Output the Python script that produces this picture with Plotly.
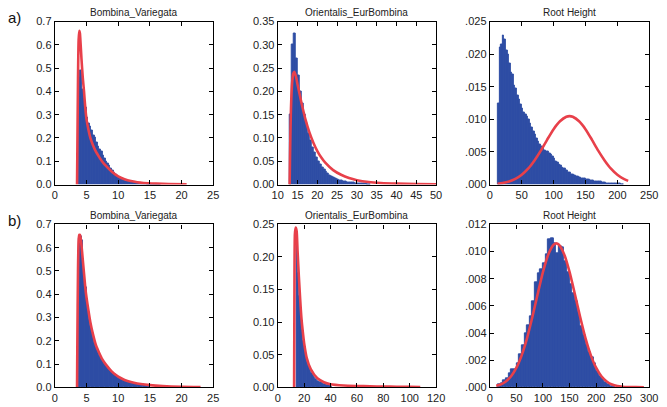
import plotly.graph_objects as go

W, H = 667, 407
BLUE = "#2F4EA4"
RED = "#E8404A"
FONT = "Liberation Sans, Arial, sans-serif"

# ---------------- data ----------------
titles = ["Bombina_Variegata", "Orientalis_EurBombina", "Root Height",
          "Bombina_Variegata", "Orientalis_EurBombina", "Root Height"]
row_labels = ["a)", "b)"]

# (a) Bombina_Variegata
a1_bin_start, a1_bin_width = 3.75, 0.25
a1_hist = [0.46, 0.49, 0.41, 0.37, 0.33, 0.29, 0.26, 0.25, 0.23, 0.21, 0.20, 0.18,
           0.165, 0.15, 0.14, 0.125, 0.11, 0.10, 0.09, 0.08, 0.07, 0.06, 0.05, 0.045,
           0.04, 0.03, 0.025, 0.02, 0.018, 0.015, 0.013, 0.012, 0.010, 0.009, 0.008,
           0.007, 0.006, 0.005, 0.005, 0.004, 0.004, 0.003, 0.003, 0.002, 0.002, 0.002,
           0.0015, 0.0015, 0.001, 0.001, 0.001, 0.001]
a1_fit_x = [3.5, 3.55, 3.65, 3.75, 3.85, 3.95, 4.05, 4.2, 4.4, 4.6, 4.8, 5.0, 5.3, 5.6,
            6.0, 6.5, 7.0, 7.5, 8.0, 9.0, 10.0, 11.0, 12.0, 13.0, 14.0, 16.0, 18.0, 20.8]
a1_fit_y = [0.0, 0.15, 0.45, 0.62, 0.66, 0.65, 0.61, 0.54, 0.46, 0.40, 0.33, 0.28, 0.235,
            0.20, 0.17, 0.14, 0.118, 0.098, 0.082, 0.055, 0.035, 0.023, 0.015, 0.01,
            0.007, 0.004, 0.002, 0.001]

# (a) Orientalis_EurBombina
a2_bin_start, a2_bin_width = 13.0, 0.5
a2_hist = [0.15, 0.30, 0.325, 0.27, 0.235, 0.20, 0.175, 0.15, 0.13, 0.11, 0.095, 0.08,
           0.068, 0.058, 0.05, 0.043, 0.037, 0.032, 0.027, 0.023, 0.02, 0.017, 0.015,
           0.013, 0.011, 0.0095, 0.008, 0.007, 0.006, 0.005, 0.0045, 0.004, 0.0035,
           0.003, 0.0025, 0.002, 0.002, 0.0015, 0.0015, 0.001, 0.001]
a2_fit_x = [13.0, 13.1, 13.3, 13.6, 13.9, 14.2, 14.6, 15.0, 15.5, 16.0, 16.5, 17.0, 18.0,
            19.0, 20.0, 21.0, 22.0, 24.0, 26.0, 28.0, 30.0, 33.0, 36.0, 40.0, 45.0, 50.0]
a2_fit_y = [0.0, 0.06, 0.15, 0.215, 0.238, 0.242, 0.232, 0.215, 0.195, 0.175, 0.157,
            0.14, 0.112, 0.09, 0.072, 0.058, 0.047, 0.031, 0.021, 0.014, 0.0095, 0.0055,
            0.0035, 0.002, 0.001, 0.0005]

# (a) Root Height
a3_bin_start, a3_bin_width = 12.5, 2.5
a3_hist = [0.0125, 0.0210, 0.0215, 0.0228, 0.0222, 0.0205, 0.0199, 0.0185, 0.0172,
           0.0168, 0.0152, 0.0148, 0.0137, 0.0130, 0.0122, 0.0117, 0.0110, 0.0108,
           0.0105, 0.0099, 0.0094, 0.0088, 0.0081, 0.0076, 0.0071, 0.0066, 0.0061,
           0.0058, 0.0056, 0.0052, 0.0050, 0.0051, 0.0048, 0.0046, 0.0043, 0.0040,
           0.0036, 0.0034, 0.0031, 0.0029, 0.0026, 0.0025, 0.0024, 0.0021, 0.0019,
           0.0018, 0.0016, 0.0015, 0.0014, 0.0013, 0.0012, 0.0011, 0.0010, 0.0009,
           0.0009, 0.0008, 0.0007, 0.0007, 0.0006, 0.0006, 0.0005, 0.0005, 0.0004,
           0.0004, 0.0004, 0.0003, 0.0003, 0.0003, 0.0002, 0.0002, 0.0002, 0.0002,
           0.0001, 0.0001, 0.0001, 0.0001, 0.0001, 0.00005, 0.00005]
a3_fit_x = [12, 20, 30, 40, 50, 60, 70, 80, 90, 100, 110, 120, 125, 130, 140, 150, 160,
            170, 180, 190, 200, 210, 217]
a3_fit_y = [0.00013, 0.00023, 0.00046, 0.00086, 0.0015, 0.00243, 0.0037, 0.0052, 0.0069,
            0.0085, 0.0097, 0.0104, 0.0105, 0.0104, 0.0097, 0.0085, 0.0069, 0.0052,
            0.0037, 0.00243, 0.0015, 0.00086, 0.00057]

# (b) Bombina_Variegata
b1_bin_start, b1_bin_width = 3.8, 0.2
b1_hist = [0.64, 0.65, 0.63, 0.55, 0.49, 0.43, 0.38, 0.33, 0.29, 0.26, 0.235, 0.21, 0.19,
           0.172, 0.158, 0.146, 0.135, 0.125, 0.116, 0.107, 0.10, 0.093, 0.086, 0.08,
           0.074, 0.068, 0.062, 0.058, 0.054, 0.05, 0.046, 0.042, 0.039, 0.036, 0.033,
           0.031, 0.029, 0.027, 0.025, 0.023, 0.021, 0.02, 0.018, 0.017, 0.016, 0.015,
           0.014, 0.013, 0.012, 0.011, 0.011, 0.01, 0.009, 0.009, 0.008, 0.008]
b1_fit_x = [3.5, 3.55, 3.65, 3.75, 3.85, 3.95, 4.05, 4.2, 4.4, 4.6, 4.8, 5.0, 5.3, 5.6,
            6.0, 6.5, 7.0, 7.5, 8.0, 9.0, 10.0, 11.0, 12.0, 13.0, 15.0, 17.0, 20.0, 23.0]
b1_fit_y = [0.0, 0.2, 0.5, 0.63, 0.655, 0.655, 0.645, 0.61, 0.55, 0.49, 0.43, 0.385, 0.33,
            0.28, 0.23, 0.18, 0.148, 0.12, 0.10, 0.068, 0.046, 0.032, 0.023, 0.017, 0.01,
            0.006, 0.003, 0.002]

# (b) Orientalis_EurBombina
b2_bin_start, b2_bin_width = 14.2, 1.0
b2_hist = [0.228, 0.175, 0.14, 0.11, 0.088, 0.07, 0.057, 0.047, 0.039, 0.032, 0.027,
           0.022, 0.018, 0.015, 0.012, 0.010, 0.009, 0.008, 0.007, 0.006, 0.005, 0.004,
           0.0035, 0.003, 0.0025, 0.002, 0.002]
b2_fit_x = [12.4, 12.6, 13.0, 13.6, 14.3, 15.0, 16.0, 17.0, 18.0, 19.0, 20.0, 22.0, 25.0,
            30.0, 35.0, 40.0, 50.0, 60.0, 70.0, 80.0, 90.0, 100.0, 108.0]
b2_fit_y = [0.0, 0.12, 0.235, 0.245, 0.24, 0.21, 0.17, 0.135, 0.105, 0.085, 0.068, 0.045,
            0.028, 0.014, 0.008, 0.005, 0.003, 0.0022, 0.0017, 0.0013, 0.001, 0.0008,
            0.0006]

# (b) Root Height
b3_bin_start, b3_bin_width = 15.0, 5.0
b3_hist = [0.0002, 0.0003, 0.0005, 0.0007, 0.0010, 0.0013, 0.0013, 0.0018, 0.0024,
           0.0031, 0.0040, 0.0046, 0.0052, 0.0063, 0.0077, 0.0084, 0.0087, 0.0091,
           0.0098, 0.0109, 0.0110, 0.0106, 0.0099, 0.0104, 0.0103, 0.0093, 0.0085,
           0.0076, 0.0069, 0.0063, 0.0055, 0.0045, 0.0038, 0.0031, 0.0026, 0.0022,
           0.0018, 0.0012, 0.0008, 0.0006, 0.0004, 0.0002, 0.0001, 0.0001]
b3_fit_x = [12, 20, 30, 40, 50, 60, 70, 80, 90, 100, 110, 120, 125, 130, 140, 150, 160,
            170, 180, 190, 200, 210, 220, 230, 240, 250, 260, 275, 290]
b3_fit_y = [0.00012, 0.00021, 0.00044, 0.00082, 0.00145, 0.00238, 0.00363, 0.00518,
            0.00687, 0.0085, 0.00979, 0.0105, 0.0106, 0.0105, 0.00979, 0.0085, 0.00687,
            0.00518, 0.00363, 0.00238, 0.00145, 0.00082, 0.00044, 0.00021, 0.0001,
            0.00005, 0.00003, 0.00002, 0.00001]

# axis ranges and ticks
x_ranges = [[0, 25], [10, 50], [0, 250], [0, 25], [0, 120], [0, 300]]
x_ticks = [[0, 5, 10, 15, 20, 25], [10, 15, 20, 25, 30, 35, 40, 45, 50],
           [0, 50, 100, 150, 200, 250], [0, 5, 10, 15, 20, 25],
           [0, 20, 40, 60, 80, 100, 120], [0, 50, 100, 150, 200, 250, 300]]
y_ranges = [[0, 0.7], [0, 0.35], [0, 0.025], [0, 0.7], [0, 0.25], [0, 0.012]]
y_ticks = [[0, 0.1, 0.2, 0.3, 0.4, 0.5, 0.6, 0.7],
           [0, 0.05, 0.10, 0.15, 0.20, 0.25, 0.30, 0.35],
           [0, 0.005, 0.010, 0.015, 0.020, 0.025],
           [0, 0.1, 0.2, 0.3, 0.4, 0.5, 0.6, 0.7],
           [0, 0.05, 0.10, 0.15, 0.20, 0.25],
           [0, 0.002, 0.004, 0.006, 0.008, 0.010, 0.012]]
y_ticktext = [["0.0", "0.1", "0.2", "0.3", "0.4", "0.5", "0.6", "0.7"],
              ["0.00", "0.05", "0.10", "0.15", "0.20", "0.25", "0.30", "0.35"],
              [".000", ".005", ".010", ".015", ".020", ".025"],
              ["0.0", "0.1", "0.2", "0.3", "0.4", "0.5", "0.6", "0.7"],
              ["0.00", "0.05", "0.10", "0.15", "0.20", "0.25"],
              [".000", ".002", ".004", ".006", ".008", ".010", ".012"]]

panels = [
    (a1_bin_start, a1_bin_width, a1_hist, a1_fit_x, a1_fit_y),
    (a2_bin_start, a2_bin_width, a2_hist, a2_fit_x, a2_fit_y),
    (a3_bin_start, a3_bin_width, a3_hist, a3_fit_x, a3_fit_y),
    (b1_bin_start, b1_bin_width, b1_hist, b1_fit_x, b1_fit_y),
    (b2_bin_start, b2_bin_width, b2_hist, b2_fit_x, b2_fit_y),
    (b3_bin_start, b3_bin_width, b3_hist, b3_fit_x, b3_fit_y),
]

# ---------------- layout (pixels) ----------------
col_px = [(50, 212), (278, 440), (495, 658)]
row_px = [(16, 184), (225, 393)]

fig = go.Figure()
layout = dict(width=W, height=H, margin=dict(l=0, r=0, t=0, b=0),
              paper_bgcolor="white", plot_bgcolor="white", showlegend=False,
              font=dict(family=FONT, size=11, color="#222"), bargap=0)
annotations = []

for i, (start, width, hist, fx, fy) in enumerate(panels):
    r, c = divmod(i, 3)
    n = i + 1
    xa = "x" if n == 1 else f"x{n}"
    ya = "y" if n == 1 else f"y{n}"
    centers = [start + width * (k + 0.5) for k in range(len(hist))]
    fig.add_trace(go.Bar(x=centers, y=hist, width=width, xaxis=xa, yaxis=ya,
                         marker=dict(color=BLUE, line=dict(color=BLUE, width=1.0)),
                         hoverinfo="skip"))
    fig.add_trace(go.Scatter(x=fx, y=fy, mode="lines", xaxis=xa, yaxis=ya,
                             line=dict(color=RED, width=2.6, shape="spline",
                                       smoothing=0.6),
                             hoverinfo="skip"))
    x0, x1 = col_px[c]
    y0, y1 = row_px[r]
    common = dict(showline=True, linecolor="black", linewidth=1.3, mirror="ticks",
                  ticks="inside", ticklen=4, tickwidth=1, tickcolor="black",
                  showgrid=False, zeroline=False, tickfont=dict(size=11, color="#222"))
    layout[f"xaxis{'' if n == 1 else n}"] = dict(
        domain=[x0 / W, x1 / W], range=x_ranges[i], anchor=ya,
        tickvals=x_ticks[i], ticktext=[str(v) for v in x_ticks[i]], **common)
    layout[f"yaxis{'' if n == 1 else n}"] = dict(
        domain=[1 - y1 / H, 1 - y0 / H], range=y_ranges[i], anchor=xa,
        tickvals=y_ticks[i], ticktext=y_ticktext[i], **common)
    annotations.append(dict(text=titles[i], x=(x0 + x1) / 2 / W, y=1 - (y0 - 9) / H,
                            xref="paper", yref="paper", showarrow=False,
                            font=dict(size=10, color="#222"),
                            xanchor="center", yanchor="middle"))

for r, lab in enumerate(row_labels):
    annotations.append(dict(text=lab, x=0.5 / W, y=1 - (row_px[r][0] - 4) / H,
                            xref="paper", yref="paper", showarrow=False,
                            font=dict(size=15, color="#111"),
                            xanchor="left", yanchor="middle"))

layout["annotations"] = annotations
fig.update_layout(**layout)
fig.write_html("out.html", config={"displayModeBar": False},
               post_script="document.body.style.margin='0';"
                           "document.body.style.padding='0';"
                           "document.body.style.overflow='hidden';")
